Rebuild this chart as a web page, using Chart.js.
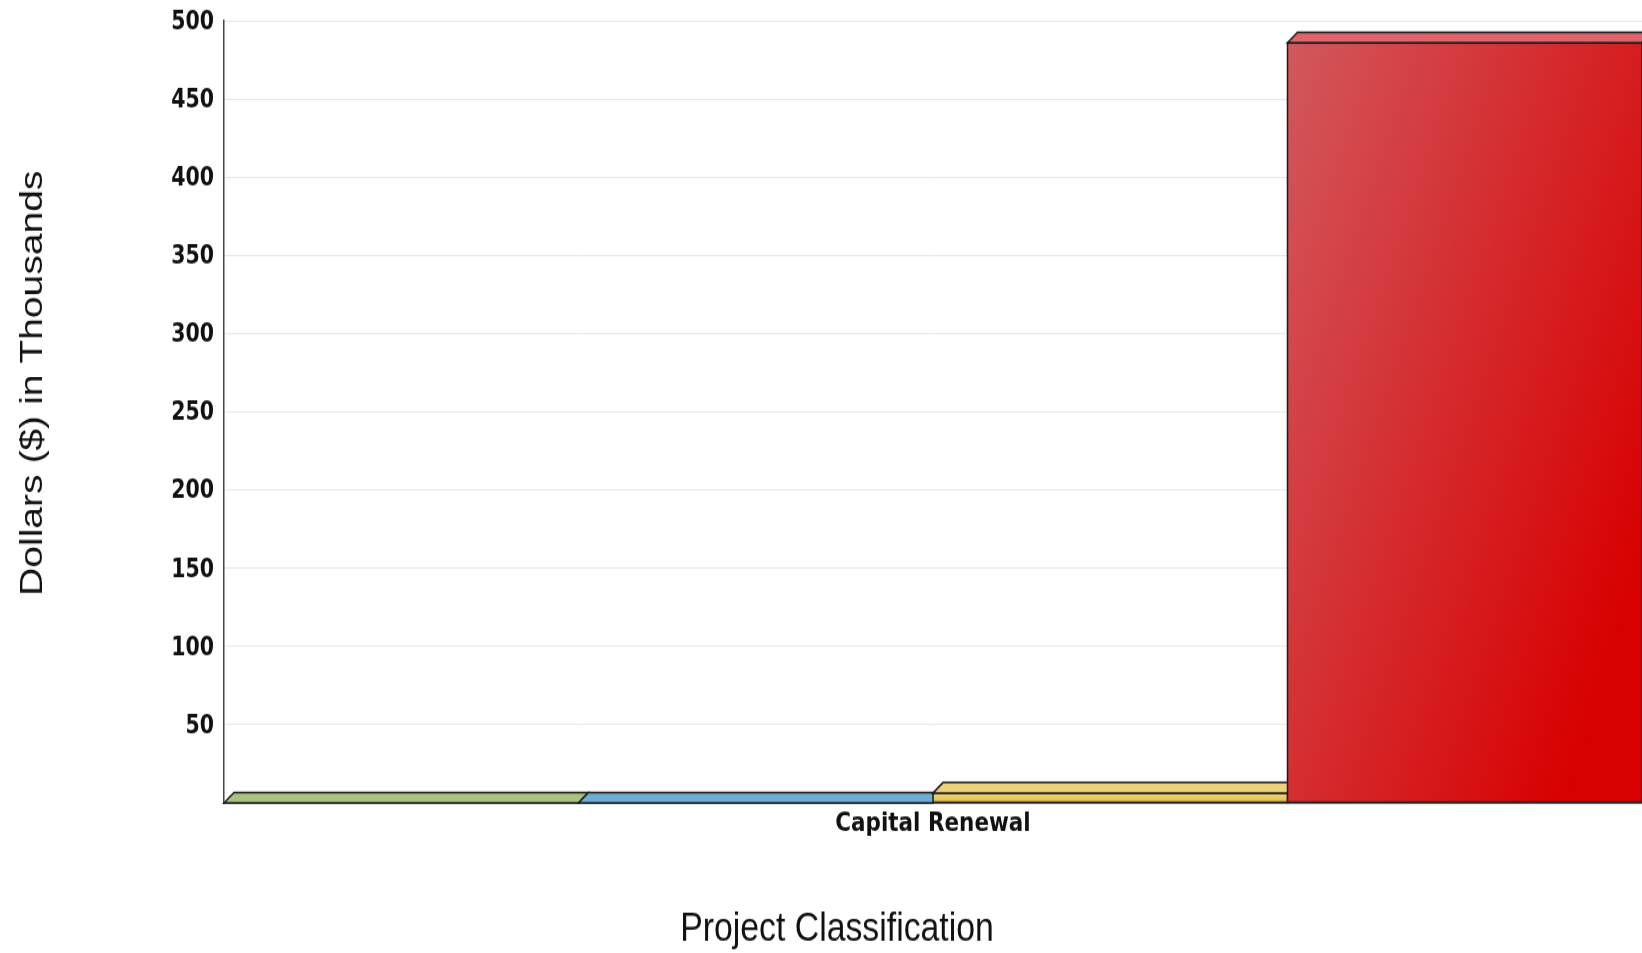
<!DOCTYPE html>
<html>
<head>
<meta charset="utf-8">
<script src="https://cdn.jsdelivr.net/npm/chart.js@4/dist/chart.umd.min.js"></script>
<style>
  html, body { margin: 0; padding: 0; background: #fff; }
  body { width: 1642px; height: 953px; overflow: visible; }
  #wrap { width: 1642px; height: 781px; transform: scaleY(1.2202); transform-origin: 0 0; }
  canvas { display: block; }
</style>
</head>
<body>
<div id="wrap"><canvas id="chart" width="1642" height="781"></canvas></div>
<script>
// Chart values (dollars in thousands)
const categories = ['Capital Renewal'];
const seriesNames = ['Series 1', 'Series 2', 'Series 3', 'Series 4'];
const seriesValues = [[0], [0], [6.3], [486]];
const yTicks = [0, 50, 100, 150, 200, 250, 300, 350, 400, 450, 500];
const yAxisTitle = 'Dollars ($) in Thousands';
const xAxisTitle = 'Project Classification';

// Bar palettes: front face gradient stops, top face colour, gradient direction
const palettes = [
  { front: ['#aac680', '#9ebb72'], top: '#a9c480', dir: 'v' },
  { front: ['#70b2d9', '#5fa6d0'], top: '#6caed6', dir: 'v' },
  { front: ['#f0d680', '#e5bf3e'], top: '#ecd27a', dir: 'v' },
  { front: ['#d2585d', '#d80000'], top: '#e1646d', dir: 'd' }
];
const DEPTH_X = 10, DEPTH_Y = 8.6;
const EDGE = '#1c1c1c';

const bars3d = {
  id: 'bars3d',
  beforeDatasetDraw() { return false; },
  afterDatasetsDraw(chart) {
    const ctx = chart.ctx;
    chart.data.datasets.forEach((ds, i) => {
      const el = chart.getDatasetMeta(i).data[0];
      const p = el.getProps(['x', 'y', 'base', 'width'], true);
      const x0 = p.x - p.width / 2, x1 = p.x + p.width / 2;
      const top = Math.min(p.y, p.base), bottom = Math.max(p.y, p.base);
      const pal = palettes[i];
      ctx.save();
      ctx.lineWidth = 1.5;
      ctx.strokeStyle = EDGE;
      ctx.lineJoin = 'miter';
      // front face
      if (bottom - top > 0.5) {
        let g;
        if (pal.dir === 'd') g = ctx.createLinearGradient(x0, top, x0 + 1.29 * (x1 - x0), top + 0.3 * (bottom - top));
        else g = ctx.createLinearGradient(0, top, 0, bottom);
        g.addColorStop(0, pal.front[0]);
        g.addColorStop(1, pal.front[1]);
        ctx.fillStyle = g;
        ctx.fillRect(x0, top, x1 - x0, bottom - top);
        ctx.strokeRect(x0, top, x1 - x0, bottom - top);
      }
      // top face
      ctx.beginPath();
      ctx.moveTo(x0, top);
      ctx.lineTo(x0 + DEPTH_X, top - DEPTH_Y);
      ctx.lineTo(x1 + DEPTH_X, top - DEPTH_Y);
      ctx.lineTo(x1, top);
      ctx.closePath();
      ctx.fillStyle = pal.top;
      ctx.fill();
      ctx.stroke();
      ctx.restore();
    });
  }
};

const axisTitles = {
  id: 'axisTitles',
  afterDraw(chart) {
    const ctx = chart.ctx;
    ctx.save();
    ctx.fillStyle = '#111';
    ctx.font = '32px "Liberation Sans", Arial, sans-serif';
    ctx.textAlign = 'center';
    ctx.textBaseline = 'alphabetic';
    ctx.translate(42, 314);
    ctx.rotate(-Math.PI / 2);
    ctx.fillText(yAxisTitle, 0, 0);
    ctx.restore();
    ctx.save();
    ctx.fillStyle = '#111';
    ctx.font = '33.8px "Liberation Sans", Arial, sans-serif';
    ctx.textAlign = 'center';
    ctx.textBaseline = 'alphabetic';
    ctx.fillText(xAxisTitle, 837, 771);
    ctx.restore();
  }
};

new Chart(document.getElementById('chart'), {
  type: 'bar',
  data: {
    labels: categories,
    datasets: seriesNames.map((name, i) => ({
      label: name,
      data: seriesValues[i],
      backgroundColor: palettes[i].front[0],
      categoryPercentage: 1,
      barPercentage: 1
    }))
  },
  options: {
    responsive: false,
    animation: false,
    devicePixelRatio: 1,
    layout: { padding: { top: 17.1, right: 0, bottom: 0, left: 0 } },
    plugins: { legend: { display: false }, tooltip: { enabled: false } },
    scales: {
      x: {
        grid: { display: false, drawTicks: false },
        border: { display: true, color: '#333', width: 1.5 },
        ticks: { color: '#111', padding: 5, font: { family: 'DejaVu Sans', weight: 'bold', size: 21.5 } },
        afterFit(s) { s.height = 123; s.paddingLeft = 0; s.paddingRight = 0; }
      },
      y: {
        min: yTicks[0],
        max: yTicks[yTicks.length - 1],
        afterBuildTicks(s) { s.ticks = yTicks.map(v => ({ value: v })); },
        ticks: {
          color: '#111', padding: 10, labelOffset: 1.5,
          font: { family: 'DejaVu Sans', weight: 'bold', size: 20.5 },
          callback: v => (v === 0 ? '' : String(v))
        },
        grid: { color: '#e6e6e6', lineWidth: 1, drawTicks: false },
        border: { display: true, color: '#444', width: 1.5 },
        afterFit(s) { s.width = 224; s.paddingTop = 0; s.paddingBottom = 0; }
      }
    }
  },
  plugins: [bars3d, axisTitles]
});
</script>
</body>
</html>
